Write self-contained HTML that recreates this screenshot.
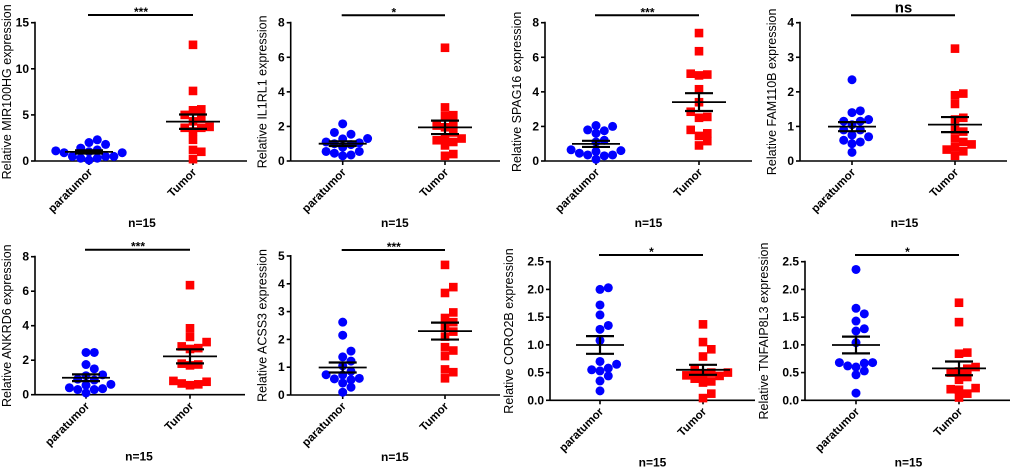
<!DOCTYPE html>
<html><head><meta charset="utf-8"><style>
html,body{margin:0;padding:0;background:#fff;}
svg{display:block;font-family:"Liberation Sans",Arial,sans-serif;}
</style></head><body>
<svg id="fig" width="1020" height="472" viewBox="0 0 1020 472"></svg>
<script>
const genes = ["MIR100HG","IL1RL1","SPAG16","FAM110B","ANKRD6","ACSS3","CORO2B","TNFAIP8L3"];
const groups = ["paratumor","Tumor"];
const sigLabels = ["***","*","***","ns","***","***","*","*"];
const yMaxes = [15,8,8,4,8,5,2.5,2.5];
const yStepsList = [5,2,2,1,2,1,0.5,0.5];
const paraValues = [
 [1.0,0.9,1.8,0.5,1.2,0.3,2.3,1.1,0.1,1.4,0.3,2.0,0.5,0.5,0.9],
 [2.15,1.65,1.55,1.3,1.28,1.1,1.05,1.0,0.95,0.8,0.55,0.55,0.45,0.35,0.3],
 [2.05,2.0,1.8,1.75,1.6,1.2,1.1,0.65,0.6,0.55,0.45,0.35,0.35,0.3,0.1],
 [2.35,1.45,1.4,1.2,1.15,1.15,1.05,0.9,0.9,0.75,0.7,0.6,0.55,0.5,0.25],
 [2.45,2.45,1.75,1.5,1.15,1.1,0.9,0.85,0.6,0.55,0.4,0.35,0.3,0.3,0.1],
 [2.62,2.15,1.58,1.37,1.22,1.05,0.85,0.73,0.72,0.6,0.58,0.55,0.43,0.28,0.1],
 [2.03,2.0,1.72,1.54,1.35,1.28,1.08,0.7,0.65,0.58,0.55,0.53,0.44,0.35,0.17],
 [2.36,1.66,1.56,1.43,1.29,1.25,1.04,0.68,0.68,0.67,0.62,0.6,0.53,0.46,0.13]
];
const tumorValues = [
 [12.6,7.6,5.6,5.5,5.0,4.6,4.3,3.7,3.6,3.6,3.2,2.3,1.2,1.0,0.2],
 [6.55,3.1,2.65,2.6,2.1,2.05,1.95,1.65,1.35,1.3,1.2,1.1,0.9,0.4,0.3],
 [7.4,6.35,5.05,5.0,4.95,4.15,3.4,2.85,2.55,2.5,1.8,1.6,1.45,1.15,0.9],
 [3.25,1.95,1.9,1.65,1.25,1.2,0.9,0.85,0.65,0.55,0.48,0.4,0.33,0.28,0.15],
 [6.35,3.85,3.35,3.05,2.8,2.7,2.65,1.8,1.75,1.7,0.8,0.75,0.65,0.6,0.55],
 [4.68,3.88,3.67,2.97,2.77,2.62,2.45,2.28,2.1,1.72,1.6,1.4,0.92,0.82,0.6],
 [1.37,1.05,0.92,0.79,0.55,0.5,0.5,0.47,0.45,0.44,0.39,0.34,0.32,0.12,0.04],
 [1.76,1.41,0.86,0.84,0.6,0.57,0.52,0.5,0.42,0.37,0.22,0.2,0.19,0.12,0.05]
];
const L = [
 {ax:35,y0:161,yt:22.7,xe:247,c:[89,193],sy:15},
 {ax:290.7,y0:161,yt:22.7,xe:500,c:[342.7,445],sy:15.3},
 {ax:545,y0:161,yt:22.7,xe:752,c:[596,699],sy:15.3},
 {ax:800,y0:161,yt:22.7,xe:1007,c:[852,955],sy:15.3},
 {ax:35,y0:394.7,yt:256.7,xe:245,c:[86,190],sy:249.7},
 {ax:290.7,y0:395,yt:256,xe:500,c:[342.7,445],sy:250},
 {ax:550,y0:400.3,yt:261.7,xe:755,c:[600,703],sy:255},
 {ax:805,y0:400.3,yt:261.7,xe:1010,c:[856,959],sy:255}
];
const NS="http://www.w3.org/2000/svg";
const svg=document.getElementById('fig');
function mk(tag,attrs,parent,text){const e=document.createElementNS(NS,tag);for(const k in attrs)e.setAttribute(k,attrs[k]);if(text!==undefined)e.textContent=text;(parent||svg).appendChild(e);return e;}
function fmt(v,step){return step<1?v.toFixed(1):String(v);}
function swarm(vals,yf){
  const s=8.3,placed=[];const out=new Array(vals.length);
  const idx=vals.map((v,i)=>i).sort((a,b)=>vals[a]-vals[b]);
  idx.forEach(i=>{const py=yf(vals[i]);
    for(let k=0;k<20;k++){const off=k===0?0:(k%2?1:-1)*Math.ceil(k/2)*s;
      if(!placed.some(p=>Math.abs(p.x-off)<7.5&&Math.abs(p.y-py)<7.5)){placed.push({x:off,y:py});out[i]=off;break;}}
  });return out;}
function stats(v){const m=v.reduce((a,b)=>a+b,0)/v.length;const sd=Math.sqrt(v.reduce((a,b)=>a+(b-m)*(b-m),0)/(v.length-1));return [m,sd/Math.sqrt(v.length)];}

genes.forEach((g,pi)=>{
  const l=L[pi];const ymax=yMaxes[pi],step=yStepsList[pi];
  const yf=v=>l.y0-(v/ymax)*(l.y0-l.yt);
  const gp=mk('g',{});
  
  
  const ya=mk('line',{x1:l.ax,y1:l.yt-1,x2:l.ax,y2:l.y0,stroke:'#000','stroke-width':1.6},gp);
  
  const xa=mk('line',{x1:l.ax,y1:l.y0,x2:l.xe,y2:l.y0,stroke:'#000','stroke-width':1.6},gp);
  
  for(let v=0;v<=ymax+1e-9;v+=step){
    const y=yf(v);
    mk('line',{x1:l.ax-4,y1:y,x2:l.ax,y2:y,stroke:'#000','stroke-width':1.6},gp);
    const t=mk('text',{x:l.ax-6,y:y+4,'text-anchor':'end','font-size':12,'font-weight':'bold'},gp,fmt(v,step));
    
  }
  const tx=l.ax-(step<1?37:24);
  const ty=(l.y0+l.yt)/2;
  const yt=mk('text',{x:tx,y:ty,'text-anchor':'middle','font-size':12.5,transform:`rotate(-90 ${tx} ${ty})`},gp,'Relative '+g+' expression');
  
  groups.forEach((c,ci)=>{
    const cx=l.c[ci];
    mk('line',{x1:cx,y1:l.y0,x2:cx,y2:l.y0+4,stroke:'#000','stroke-width':1.6},gp);
    const lx=cx+4,ly=l.y0+12;
    const t=mk('text',{x:lx,y:ly,'text-anchor':'end','font-size':11.5,'font-weight':'bold',transform:`rotate(-45 ${lx} ${ly})`},gp,c);
    
    const vals=ci===0?paraValues[pi]:tumorValues[pi];
    const offs=swarm(vals,yf);
    vals.forEach((v,i)=>{
      let m;
      if(ci===0){m=mk('circle',{cx:cx+offs[i],cy:yf(v),r:4.5,fill:'#0000ff'},gp);}
      else{m=mk('rect',{x:cx+offs[i]-4.3,y:yf(v)-4.3,width:8.6,height:8.6,fill:'#ff0000'},gp);}
      
    });
    const [mean,sem]=stats(vals);
    const hw=ci===0?24:27;
    const ml=mk('line',{x1:cx-hw,y1:yf(mean),x2:cx+hw,y2:yf(mean),stroke:'#000','stroke-width':1.8},gp);
    
    const eb=mk('path',{d:`M${cx-14},${yf(mean+sem)}H${cx+14}M${cx-14},${yf(mean-sem)}H${cx+14}M${cx},${yf(mean+sem)}V${yf(mean-sem)}`,stroke:'#000','stroke-width':2.2,fill:'none'},gp);
    
  });
  const sb=mk('line',{x1:l.c[0]-1,y1:l.sy,x2:l.c[1],y2:l.sy,stroke:'#000','stroke-width':2},gp);
  
  const ns=sigLabels[pi]==='ns';
  const st=mk('text',{x:(l.c[0]+l.c[1])/2,y:ns?l.sy-3:l.sy+1,'text-anchor':'middle','font-size':ns?15:12,'font-weight':'bold'},gp,sigLabels[pi]);
  
  const n=mk('text',{x:(l.c[0]+l.c[1])/2+1,y:l.y0+66,'text-anchor':'middle','font-size':12,'font-weight':'bold'},gp,'n=15');
  
});
</script>
</body></html>
